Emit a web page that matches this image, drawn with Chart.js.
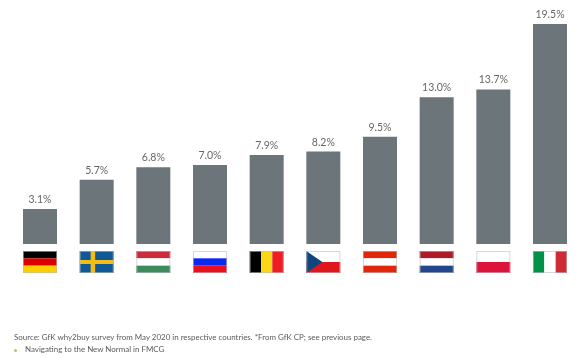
<!DOCTYPE html>
<html>
<head>
<meta charset="utf-8">
<style>
  html, body { margin: 0; padding: 0; background: #fff; }
  #wrap { position: relative; width: 585px; height: 358px; overflow: hidden; font-family: Lato, sans-serif; color: #5a5a5a; }
  #wrap canvas { position: absolute; left: 0; top: 0; }
  .note { position: absolute; font-size: 7.95px; line-height: 11px; white-space: nowrap; }
</style>
<script src="https://cdn.jsdelivr.net/npm/chart.js@4/dist/chart.umd.min.js"></script>
</head>
<body>
<div id="wrap">
  <canvas id="bar-countries" width="585" height="358"></canvas>
  <div class="note" style="left:14px;top:332px">Source: GfK why2buy survey from May 2020 in respective countries. *From GfK CP; see previous page.</div>
  <div class="note" style="left:25px;top:344px">Navigating to the New Normal in FMCG</div>
  <div style="position:absolute;left:14px;top:349px;width:3px;height:3px;border-radius:50%;background:#c9b877"></div>
</div>
<script>
const countries = ['Germany', 'Sweden', 'Hungary', 'Russia', 'Belgium', 'Czechia', 'Austria', 'Netherlands', 'Poland', 'Italy'];
const shares = [3.1, 5.7, 6.8, 7.0, 7.9, 8.2, 9.5, 13.0, 13.7, 19.5];

// flag stripes, top to bottom or left to right
const flags = {
  Germany: { dir: 'h', colors: ['#000000', '#dd0000', '#ffce00'] },
  Sweden: { dir: 'h', colors: ['#0f5a94'], cross: '#f5bd14' },
  Hungary: { dir: 'h', colors: ['#cd2a3e', '#ffffff', '#3d8b5a'] },
  Russia: { dir: 'h', colors: ['#ffffff', '#0a28f0', '#e8101e'] },
  Belgium: { dir: 'v', colors: ['#000000', '#fcd716', '#ee1c25'] },
  Czechia: { dir: 'h', colors: ['#ffffff', '#e0161e'], wedge: '#11457e' },
  Austria: { dir: 'h', colors: ['#e1260c', '#ffffff', '#e1260c'] },
  Netherlands: { dir: 'h', colors: ['#ae1c28', '#ffffff', '#21468b'] },
  Poland: { dir: 'h', colors: ['#ffffff', '#dc143c'] },
  Italy: { dir: 'v', colors: ['#009246', '#ffffff', '#ce2b37'] }
};

const valueLabels = {
  id: 'valueLabels',
  afterDatasetsDraw(chart) {
    const { ctx } = chart;
    ctx.save();
    ctx.font = '10.5px Lato, sans-serif';
    ctx.fillStyle = '#666666';
    ctx.textAlign = 'center';
    ctx.textBaseline = 'alphabetic';
    chart.getDatasetMeta(0).data.forEach((bar, i) => {
      ctx.fillText(`${shares[i].toFixed(1)}%`, bar.x, bar.y - 6);
    });
    ctx.restore();
  }
};

const flagRow = {
  id: 'flagRow',
  afterDatasetsDraw(chart) {
    const { ctx } = chart;
    const top = chart.scales.y.bottom + 7;
    const w = 34, h = 22;
    ctx.save();
    chart.getDatasetMeta(0).data.forEach((bar, i) => {
      const flag = flags[countries[i]];
      const left = bar.x - w / 2;
      const n = flag.colors.length;
      flag.colors.forEach((color, k) => {
        ctx.fillStyle = color;
        if (flag.dir === 'h') ctx.fillRect(left, top + k * h / n, w, h / n);
        else ctx.fillRect(left + k * w / n, top, w / n, h);
      });
      if (flag.cross) {
        ctx.fillStyle = flag.cross;
        ctx.fillRect(left + 11, top, 4.5, h);
        ctx.fillRect(left, top + 9, w, 4);
      }
      if (flag.wedge) {
        ctx.fillStyle = flag.wedge;
        ctx.beginPath();
        ctx.moveTo(left, top);
        ctx.lineTo(left + 16, top + h / 2);
        ctx.lineTo(left, top + h);
        ctx.closePath();
        ctx.fill();
      }
      ctx.strokeStyle = 'rgba(190,190,190,0.6)';
      ctx.lineWidth = 1;
      ctx.strokeRect(left + 0.5, top + 0.5, w - 1, h - 1);
    });
    ctx.restore();
  }
};

let barCountries = new Chart(document.getElementById('bar-countries'), {
  type: 'bar',
  data: {
    labels: countries,
    datasets: [{
      data: shares,
      backgroundColor: '#6b757a',
      categoryPercentage: 1,
      barPercentage: 0.6
    }]
  },
  options: {
    responsive: false,
    animation: false,
    layout: { padding: { left: 11.67, right: 6.67, top: 18.4, bottom: 114 } },
    plugins: { legend: { display: false }, tooltip: { enabled: false } },
    scales: {
      x: { display: false },
      y: { display: false, min: 0, max: 20 }
    }
  },
  plugins: [valueLabels, flagRow]
});
</script>
</body>
</html>
